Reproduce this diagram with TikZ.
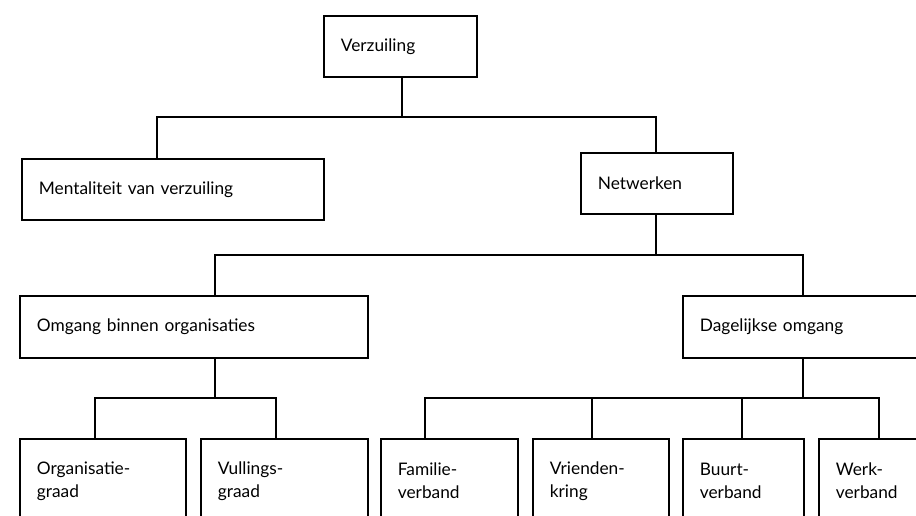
\documentclass[tikz,border=0pt]{standalone}
\usepackage{fontspec}
\setmainfont{Lato}
\begin{document}
\begin{tikzpicture}[x=1pt,y=-1pt,
  box/.style={draw,line width=1.8pt,anchor=north west,inner xsep=17pt,inner ysep=0pt,
    align=left,font=\fontsize{17.3}{23}\selectfont},
  conn/.style={line width=1.8pt}]
\useasboundingbox (0,0) rectangle (916,515);
\begin{scope}
\clip (0,0) rectangle (916,515);
\node[box,text width=119pt,minimum height=61pt] (verz) at (323,15) {Verzuiling};
\node[box,text width=268pt,minimum height=61pt] (ment) at (21,158) {Mentaliteit van verzuiling};
\node[box,text width=118pt,minimum height=61pt] (netw) at (580,152) {Netwerken};
\node[box,text width=314pt,minimum height=62pt] (omg) at (19,295) {Omgang binnen organisaties};
\node[box,text width=226pt,minimum height=62pt] (dag) at (682,295) {Dagelijkse omgang};
\node[box,text width=132pt,minimum height=84pt] (org) at (19,438) {Organisatie-\\graad};
\node[box,text width=133pt,minimum height=84pt] (vul) at (200,438) {Vullings-\\graad};
\node[box,text width=103pt,minimum height=84pt] (fam) at (380,438) {Familie-\\verband};
\node[box,text width=102pt,minimum height=84pt] (vri) at (532,438) {Vrienden-\\kring};
\node[box,text width=87pt,minimum height=84pt] (buu) at (682,438) {Buurt-\\verband};
\node[box,text width=96pt,minimum height=84pt] (wer) at (818,438) {Werk-\\verband};
% connectors
\draw[conn] (verz.south -| 402,0) -- (402,117);
\draw[conn] (ment.north -| 157,0) -- (157,117) -- (656,117) -- (netw.north -| 656,0);
\draw[conn] (netw.south -| 656,0) -- (656,255);
\draw[conn] (omg.north -| 215,0) -- (215,255) -- (803,255) -- (dag.north -| 803,0);
\draw[conn] (omg.south -| 215,0) -- (215,398);
\draw[conn] (org.north -| 95,0) -- (95,398) -- (276,398) -- (vul.north -| 276,0);
\draw[conn] (dag.south -| 803,0) -- (803,398);
\draw[conn] (fam.north -| 425,0) -- (425,398) -- (879,398) -- (wer.north -| 879,0);
\draw[conn] (vri.north -| 592,0) -- (592,398);
\draw[conn] (buu.north -| 742,0) -- (742,398);
\end{scope}
\end{tikzpicture}
\end{document}
